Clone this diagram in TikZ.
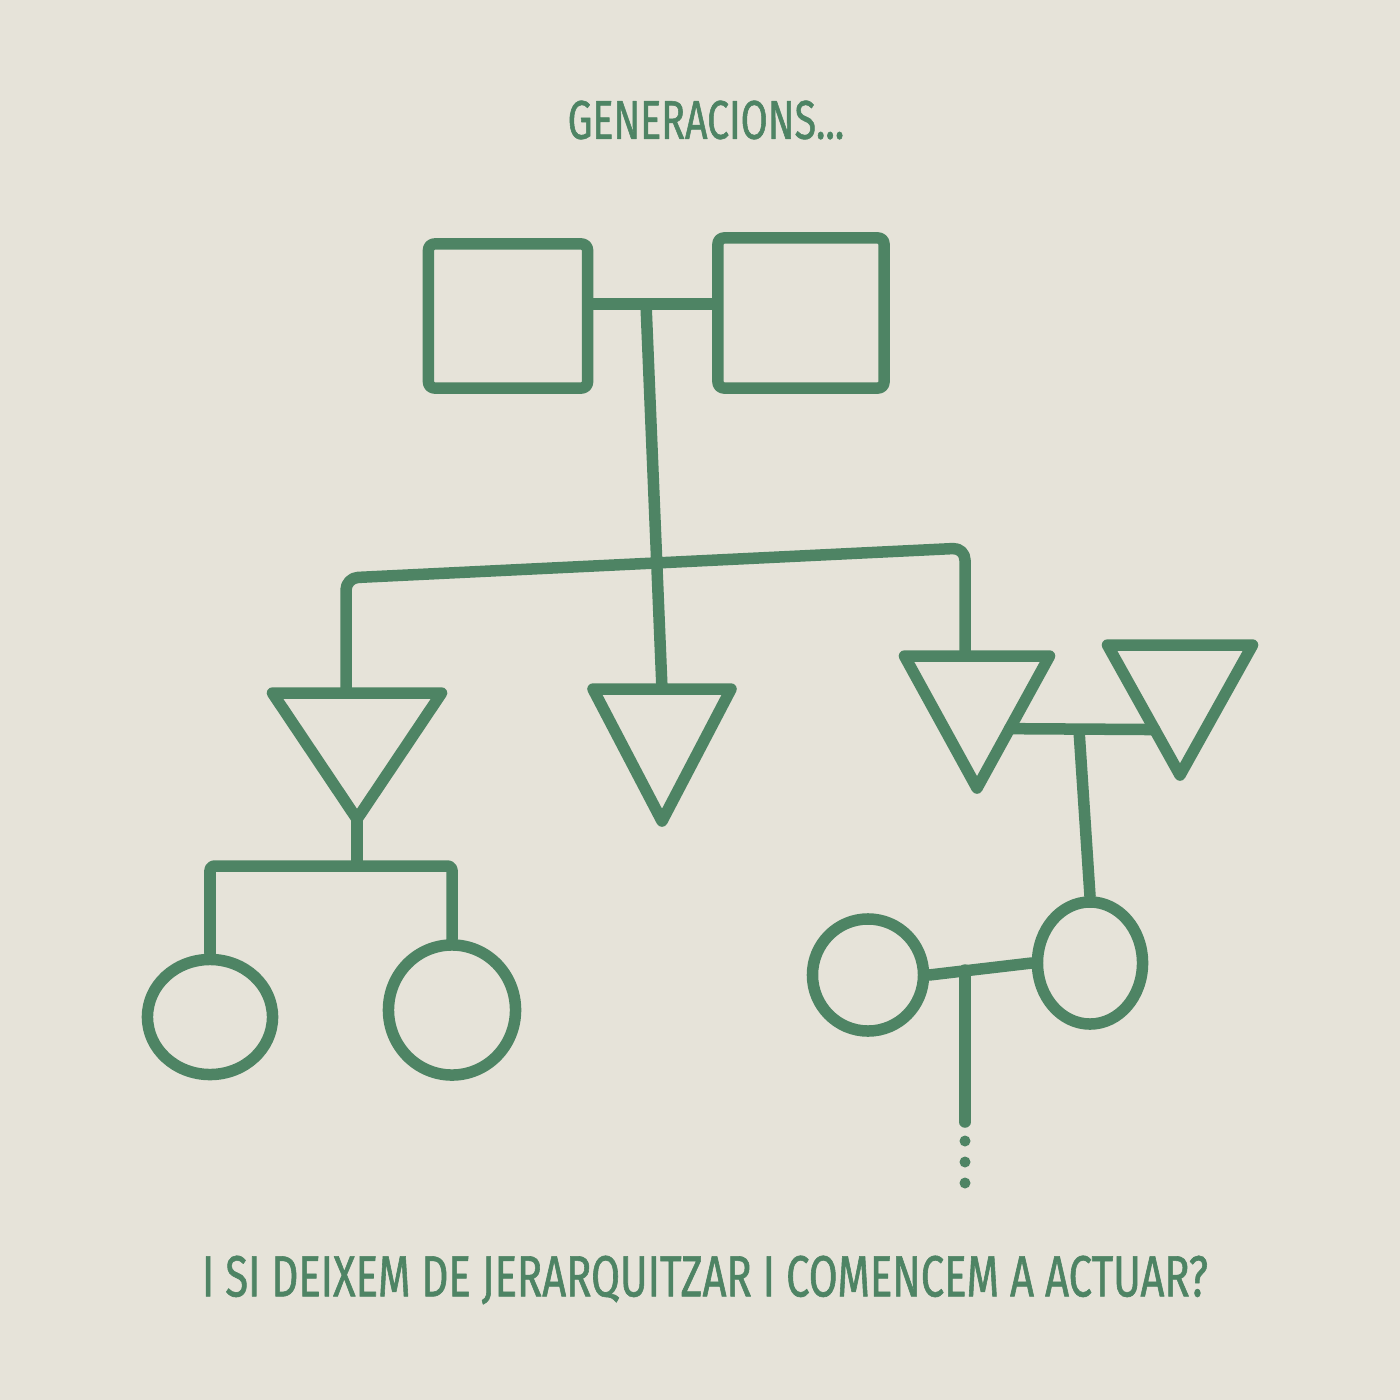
\documentclass[tikz,border=0pt]{standalone}
\usepackage{fontspec}
\newfontfamily\handfont[FakeStretch=0.72,FakeBold=1]{Fira Sans}
\usetikzlibrary{shapes.geometric,calc}
\definecolor{paper}{RGB}{230,227,217}
\definecolor{leaf}{RGB}{78,132,100}
\begin{document}
\begin{tikzpicture}[x=0.01cm,y=-0.01cm,
    line width=0.115cm,line cap=round,line join=round,
    box/.style={draw=leaf,rectangle,rounded corners=0.06cm,inner sep=0pt},
    tri/.style={draw=leaf,isosceles triangle,isosceles triangle stretches,
      shape border rotate=270,inner sep=0pt,outer sep=0pt,anchor=north},
    ring/.style={draw=leaf,ellipse,inner sep=0pt},
    caption/.style={text=leaf,font=\handfont\fontsize{15.5}{18}\selectfont}]
    \fill[paper] (0,0) rectangle (1400,1400);
    \useasboundingbox (0,0) rectangle (1400,1400);

    \node[caption] (title) at (706,120) {GENERACIONS...};

    \node[box,minimum width=1.59cm,minimum height=1.44cm] (sqA) at (508,316) {};
    \node[box,minimum width=1.66cm,minimum height=1.50cm] (sqB) at (801,313) {};

    \node[tri,minimum width=1.69cm,minimum height=1.26cm] (t1) at (357,693) {};
    \node[tri,minimum width=1.38cm,minimum height=1.32cm] (t2) at (662,689) {};
    \node[tri,minimum width=1.45cm,minimum height=1.32cm] (t3) at (977,656) {};
    \node[tri,minimum width=1.45cm,minimum height=1.30cm] (t4) at (1180,645) {};

    \node[ring,minimum width=1.25cm,minimum height=1.15cm] (c1) at (210,1017) {};
    \node[ring,minimum width=1.27cm,minimum height=1.30cm] (c2) at (452,1010) {};
    \node[ring,minimum width=1.11cm,minimum height=1.12cm] (c3) at (868,975) {};
    \node[ring,minimum width=1.05cm,minimum height=1.22cm] (c4) at (1090,963) {};

    \coordinate (m1) at (646,304);
    \coordinate (sl) at (346,578);
    \coordinate (sr) at (965,548);
    \coordinate (k1) at (357,866);
    \coordinate (m2) at (1079,730);
    \coordinate (m3) at (965,970);
    \coordinate (d0) at (965,1122);

    \draw[leaf] (sqA.east |- m1) -- (sqB.west |- m1);
    \draw[leaf] (m1) -- (t2.north);
    \draw[leaf,rounded corners=0.12cm] (sl |- t1.north) -- (sl) -- (sr) -- (sr |- t3.north);
    \draw[leaf] (t1.apex) -- (k1);
    \draw[leaf,rounded corners=0.04cm] (c1.north) -- (c1.north |- k1) -- (c2.north |- k1) -- (c2.north);
    \draw[leaf] ($(t3.left corner)!0.55!(t3.apex)$) -- ($(t4.right corner)!0.65!(t4.apex)$);
    \draw[leaf] (m2) -- (c4.north);
    \draw[leaf] (c3.east) -- (c4.west);
    \draw[leaf] (m3) -- (d0);
    \foreach \y in {1141,1162,1183}
      \fill[leaf] (965,\y) circle (0.055cm);

    \node[caption,font=\handfont\fontsize{16.5}{20}\selectfont] (question) at (705,1280)
      {I SI DEIXEM DE JERARQUITZAR I COMENCEM A ACTUAR?};
  \end{tikzpicture}
\end{document}
